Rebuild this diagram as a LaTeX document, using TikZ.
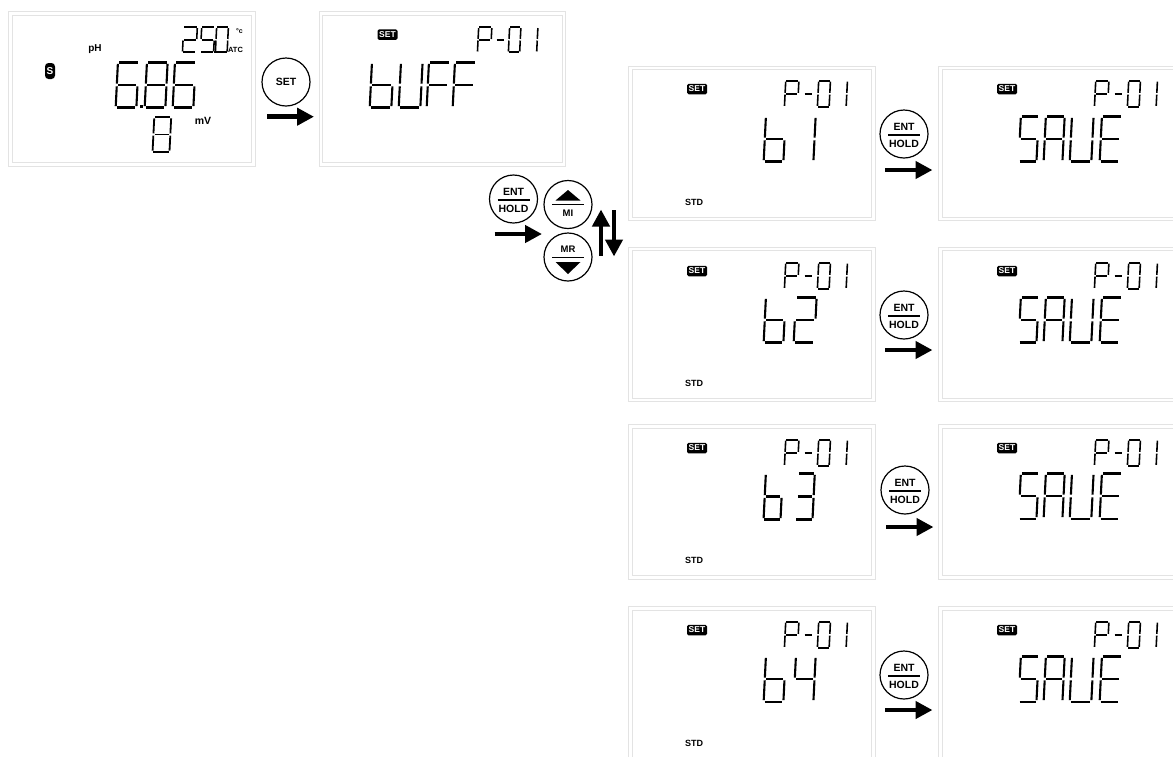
\documentclass[tikz,border=0pt]{standalone}
\usepackage{fontspec}
\setmainfont{Liberation Sans}
\usetikzlibrary{arrows.meta, positioning, calc}

\tikzset{
  panel/.style={draw=black!11, double=white, double distance=2.8pt, line width=1pt, minimum width=243pt, minimum height=151pt, inner sep=0pt},
  segline/.style={black},
  keybtn/.style={circle, draw, line width=1.2pt, minimum size=48pt, inner sep=0pt, fill=white},
  keytext/.style={font=\bfseries\fontsize{10.5}{10.5}\selectfont, inner sep=0pt},
  keyarrow/.style={line width=4.6pt, -{Triangle[length=17pt,width=17pt]}, shorten >=-0.5pt},
  setbadge/.style={fill=black, text=white, rounded corners=1.5pt, inner sep=0pt, minimum width=20pt, minimum height=10.5pt, font=\bfseries\fontsize{8.5}{8.5}\selectfont},
  smalltext/.style={font=\bfseries\fontsize{9}{9}\selectfont, inner sep=0pt},
}

% the seven segments in a unit box
\newcommand{\lcdsega}{\draw (0.08,0.01) -- (0.92,0.01);}
\newcommand{\lcdsegb}{\draw (0.97,0.04) -- (0.97,0.47);}
\newcommand{\lcdsegc}{\draw (0.97,0.53) -- (0.97,0.96);}
\newcommand{\lcdsegd}{\draw (0.08,0.99) -- (0.92,0.99);}
\newcommand{\lcdsege}{\draw (0.03,0.53) -- (0.03,0.96);}
\newcommand{\lcdsegf}{\draw (0.03,0.04) -- (0.03,0.47);}
\newcommand{\lcdsegg}{\draw (0.1,0.5) -- (0.9,0.5);}

% one seven-segment digit: left, top, width, height, segments
\newcommand{\lcddigit}[5]{%
  \begin{scope}[shift={(#1+0.05*#4,#2)}, x={(#3pt,0pt)}, y={(-0.05*#4pt,-#4pt)}, segline, line width={(0.9+0.026*#4)*1pt}]
    \foreach \s in {#5} {\csname lcdseg\s\endcsname}
  \end{scope}
}

% P-01 and SET of a panel whose corner is at (#1,#2)
\newcommand{\progline}[2]{%
  \lcddigit{#1+156}{#2+15.5}{14}{26.5}{a,b,e,f,g}
  \lcddigit{#1+175}{#2+15.5}{9}{26.5}{g}
  \lcddigit{#1+189}{#2+15.5}{12.5}{26.5}{a,b,c,d,e,f}
  \lcddigit{#1+206}{#2+15.5}{12.5}{26.5}{b,c}
  \node[setbadge] at (#1+69,#2+24) {SET};
}

% ENT/HOLD key with its arrow
\newcommand{\entkey}[4]{%
  \node[keybtn] (#1) at (#2,#3) {};
  \node[keytext, above=3pt of #1.center] (#1ent) {ENT};
  \node[keytext, below=6pt of #1.center] (#1hold) {HOLD};
  \draw[line width=1.2pt] ($(#1.center)+(-16,1)$) -- ($(#1.center)+(16,1)$);
  \coordinate (#1from) at (#2-19,#4);
  \coordinate (#1to) at (#2+28,#4);
  \draw[keyarrow] (#1from) -- (#1to);
}

\begin{document}
\begin{tikzpicture}[x=1pt,y=-1pt]
  \useasboundingbox (0,0) rectangle (1173,756);

  % First two panels
  \node[panel] (measure) at (132,89) {};
  \node[panel] (buff) at (442.5,89) {};

  \lcddigit{182}{27}{14.5}{25.5}{a,b,d,e,g}
  \lcddigit{200}{27}{14}{25.5}{a,c,d,f,g}
  \lcddigit{215}{27}{12.5}{25.5}{a,b,c,d,e,f}
  \fill (213.5,50.5) rectangle (216,53);
  \node[font=\bfseries\fontsize{7}{7}\selectfont, inner sep=0pt] (degc) at (239.5,31) {°c};
  \node[smalltext, font=\bfseries\fontsize{7.5}{7.5}\selectfont] (atc) at (235.5,50) {ATC};
  \node[smalltext, font=\bfseries\fontsize{10}{10}\selectfont] (ph) at (95,49) {pH};
  \node[smalltext, font=\bfseries\fontsize{10.5}{10.5}\selectfont] (mv) at (203,121) {mV};
  \node[fill=black, text=white, rounded corners=3.5pt, inner sep=0pt, minimum width=10pt, minimum height=16pt, font=\bfseries\fontsize{10}{10}\selectfont] (sbadge) at (50,71) {S};

  \lcddigit{115}{62}{22}{46}{a,c,d,e,f,g}
  \lcddigit{144}{62}{22}{46}{a,b,c,d,e,f,g}
  \lcddigit{172}{62}{22}{46}{a,c,d,e,f,g}
  \fill (140,105) rectangle (143,108);
  \lcddigit{152}{117}{18}{35}{a,b,c,d,e,f,g}

  \lcddigit{477}{27}{14}{25.5}{a,b,e,f,g}
  \lcddigit{495}{27}{9}{25.5}{g}
  \lcddigit{508}{27}{12}{25.5}{a,b,c,d,e,f}
  \lcddigit{525}{27}{12}{25.5}{b,c}
  \node[setbadge] (buffset) at (387.5,34.5) {SET};
  \lcddigit{369}{62}{23}{46}{c,d,e,f,g}
  \lcddigit{398}{62}{23}{46}{b,c,d,e,f}
  \lcddigit{426}{62}{22}{46}{a,e,f,g}
  \lcddigit{452}{62}{22}{46}{a,e,f,g}

  \node[keybtn] (setkey) at (286,82) {};
  \node[keytext] (setlabel) at (286,82) {SET};
  \coordinate (setfrom) at (267,116.7);
  \coordinate (setto) at (313.5,116.7);
  \draw[keyarrow] (setfrom) -- (setto);

  % Keys for choosing the buffer
  \entkey{enta}{513.5}{199}{234}
  \node[keybtn] (mikey) at (568,204.5) {};
  \node[keybtn] (mrkey) at (568,257) {};
  \node[keytext, font=\bfseries\fontsize{9.5}{9.5}\selectfont] (milabel) at (568,213.5) {MI};
  \node[keytext, font=\bfseries\fontsize{9.5}{9.5}\selectfont] (mrlabel) at (568,249) {MR};
  \draw[line width=1pt] ($(mikey.center)+(-16,0)$) -- ($(mikey.center)+(16,0)$);
  \draw[line width=1pt] ($(mrkey.center)+(-16,0)$) -- ($(mrkey.center)+(16,0)$);
  \fill ($(mikey.center)+(-12.5,-4)$) -- ($(mikey.center)+(12.5,-4)$) -- ($(mikey.center)+(0,-14.5)$) -- cycle;
  \fill ($(mrkey.center)+(-12.5,5)$) -- ($(mrkey.center)+(12.5,5)$) -- ($(mrkey.center)+(0,17)$) -- cycle;
  \coordinate (upfrom) at (601,256);
  \coordinate (upto) at (601,210);
  \coordinate (downfrom) at (614,210);
  \coordinate (downto) at (614,256);
  \draw[keyarrow] (upfrom) -- (upto);
  \draw[keyarrow] (downfrom) -- (downto);

  % Buffer rows
  \node[panel] (bone) at (752,143.5) {};
  \progline{628}{65}
  \lcddigit{763}{116}{21}{46}{c,d,e,f,g}
  \lcddigit{793}{116}{21}{46}{b,c}
  \node[smalltext] (stdone) at (694,202) {STD};

  \node[panel] (btwo) at (752,324.5) {};
  \progline{628}{247}
  \lcddigit{763}{297}{21}{46}{c,d,e,f,g}
  \lcddigit{793}{297}{22}{46}{a,b,d,e,g}
  \node[smalltext] (stdtwo) at (694,383) {STD};

  \node[panel] (bthree) at (752,502) {};
  \progline{628}{424}
  \lcddigit{763}{473}{18}{47}{c,d,e,f,g}
  \lcddigit{795}{473}{18}{47}{a,b,c,d,g}
  \node[smalltext] (stdthree) at (694,560) {STD};

  \node[panel] (bfour) at (752,684) {};
  \progline{628}{606}
  \lcddigit{763}{656}{21}{46}{c,d,e,f,g}
  \lcddigit{793}{656}{21}{46}{b,c,f,g}
  \node[smalltext] (stdfour) at (694,743) {STD};

  % Save panels
  \entkey{entb}{904}{134}{170}
  \node[panel] (saveone) at (1062,143.5) {};
  \progline{938}{65}
  \entkey{entc}{904}{315}{350}
  \node[panel] (savetwo) at (1062,324.5) {};
  \progline{938}{247}
  \entkey{entd}{905}{490}{527}
  \node[panel] (savethree) at (1062,502) {};
  \progline{938}{424}
  \entkey{ente}{904}{675}{710}
  \node[panel] (savefour) at (1062,684) {};
  \progline{938}{606}

  \lcddigit{1018}{116}{19}{46}{a,c,d,f,g}
  \lcddigit{1043}{116}{20}{46}{a,b,c,e,f,g}
  \lcddigit{1069}{116}{23}{46}{b,c,d,e,f}
  \lcddigit{1099}{116}{21}{46}{a,d,e,f,g}

  \lcddigit{1018}{297}{19}{46}{a,c,d,f,g}
  \lcddigit{1043}{297}{20}{46}{a,b,c,e,f,g}
  \lcddigit{1069}{297}{23}{46}{b,c,d,e,f}
  \lcddigit{1099}{297}{21}{46}{a,d,e,f,g}

  \lcddigit{1018}{473}{19}{46}{a,c,d,f,g}
  \lcddigit{1043}{473}{20}{46}{a,b,c,e,f,g}
  \lcddigit{1069}{473}{23}{46}{b,c,d,e,f}
  \lcddigit{1099}{473}{21}{46}{a,d,e,f,g}

  \lcddigit{1018}{656}{19}{46}{a,c,d,f,g}
  \lcddigit{1043}{656}{20}{46}{a,b,c,e,f,g}
  \lcddigit{1069}{656}{23}{46}{b,c,d,e,f}
  \lcddigit{1099}{656}{21}{46}{a,d,e,f,g}
\end{tikzpicture}
\end{document}
